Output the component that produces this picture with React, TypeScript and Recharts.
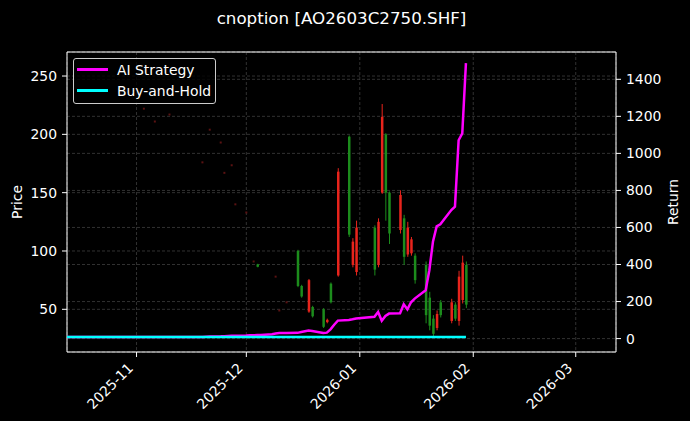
import {
    ComposedChart,
    Bar,
    Line,
    Scatter,
    XAxis,
    YAxis,
    CartesianGrid,
    Legend,
    ReferenceArea
} from "recharts";

// ==============================
// DATA
// ==============================
const tradeDates = [
    "2025-10-13", "2025-10-14", "2025-10-15", "2025-10-16", "2025-10-17",
    "2025-10-20", "2025-10-21", "2025-10-22", "2025-10-23", "2025-10-24",
    "2025-10-27", "2025-10-28", "2025-10-29", "2025-10-30", "2025-10-31",
    "2025-11-03", "2025-11-04", "2025-11-05", "2025-11-06", "2025-11-07",
    "2025-11-10", "2025-11-11", "2025-11-12", "2025-11-13", "2025-11-14",
    "2025-11-17", "2025-11-18", "2025-11-19", "2025-11-20", "2025-11-21",
    "2025-11-24", "2025-11-25", "2025-11-26", "2025-11-27", "2025-11-28",
    "2025-12-01", "2025-12-02", "2025-12-03", "2025-12-04", "2025-12-05",
    "2025-12-08", "2025-12-09", "2025-12-10", "2025-12-11", "2025-12-12",
    "2025-12-15", "2025-12-16", "2025-12-17", "2025-12-18", "2025-12-19",
    "2025-12-22", "2025-12-23", "2025-12-24", "2025-12-25", "2025-12-26",
    "2025-12-29", "2025-12-30", "2025-12-31",
    "2026-01-05", "2026-01-06", "2026-01-07", "2026-01-08", "2026-01-09",
    "2026-01-12", "2026-01-13", "2026-01-14", "2026-01-15", "2026-01-16",
    "2026-01-19", "2026-01-20", "2026-01-21", "2026-01-22", "2026-01-23",
    "2026-01-26", "2026-01-27", "2026-01-28", "2026-01-29", "2026-01-30"
];

const aiReturn = [
    8, 8, 8, 8, 8,
    8, 8, 8, 8, 8,
    8, 8, 8, 8, 8,
    8, 8, 8, 8, 8,
    8, 8, 8, 8, 8,
    8, 8, 9, 10, 11,
    12, 13, 14, 15, 16,
    17, 18, 18, 19, 20,
    24, 28, 30, 30, 30,
    31, 36, 40, 43, 41,
    30, 32, 50, 75, 97,
    101, 104, 108,
    118, 144, 96, 122, 135,
    137, 185, 158, 196, 216,
    261, 369, 525, 606, 617,
    694, 712, 1071, 1108, 1487
];

const bhReturn = [
    8, 8, 8, 8, 8, 8, 8, 8, 8, 8, 8, 8, 8, 8, 8,
    8, 8, 8, 8, 8, 8, 8, 8, 8, 8, 8, 8, 8, 8, 8,
    8, 8, 8, 8, 8, 8, 8, 8, 8, 8, 8, 8, 8, 8, 8,
    8, 8, 8, 8, 8, 8, 8, 8, 8, 8, 8, 8, 8,
    8, 8, 8, 8, 8, 8, 8, 8, 8, 8,
    8, 8, 8, 8, 8, 8, 8, 8, 8, 8
];

const candleDates = [
    "2025-12-04", "2025-12-15", "2025-12-16", "2025-12-18", "2025-12-19",
    "2025-12-22", "2025-12-23", "2025-12-24", "2025-12-26", "2025-12-29",
    "2025-12-30", "2025-12-31", "2026-01-05", "2026-01-06", "2026-01-07",
    "2026-01-08", "2026-01-09", "2026-01-12", "2026-01-13", "2026-01-14",
    "2026-01-15", "2026-01-16", "2026-01-19", "2026-01-20", "2026-01-21",
    "2026-01-22", "2026-01-23", "2026-01-26", "2026-01-27", "2026-01-28",
    "2026-01-29", "2026-01-30"
];
const candleOpen = [
    88.5, 100, 70, 48, 52, 50, 39, 72, 79, 198,
    88, 82, 120, 88, 150, 200, 150, 118, 128, 97,
    98, 96, 88, 60, 42, 34, 56, 40, 54, 40,
    58, 88
];
const candleHigh = [
    89, 101, 71, 76, 53, 51, 42, 73, 171, 199,
    111, 126, 122, 128, 226, 201, 151, 152, 131, 125,
    112, 98, 91, 65, 45, 49, 58, 59, 56, 83,
    96, 91
];
const candleLow = [
    86, 69, 60, 47, 43, 34, 38, 55, 78, 112,
    86, 79, 79, 86, 149, 126, 106, 115, 88, 95,
    96, 72, 38, 32, 27, 32, 43, 38, 40, 36,
    55, 51
];
const candleClose = [
    86.5, 70, 61, 75, 44, 35, 41, 56, 168, 114,
    108, 120, 84, 125, 215, 150, 115, 148, 95, 120,
    110, 75, 45, 36, 29, 46, 45, 56, 42, 78,
    90, 54
];

// flat days (open = high = low = close)
const dojiDates = [
    "2025-11-03", "2025-11-06", "2025-11-10", "2025-11-19", "2025-11-21",
    "2025-11-24", "2025-11-25", "2025-11-27", "2025-11-28", "2025-12-01",
    "2025-12-03", "2025-12-09", "2025-12-10", "2025-12-12"
];
const dojiPrice = [222, 211, 217, 176, 204, 193, 167, 173.5, 140, 133, 91, 78, 49, 56];

const monthTicks = ["2025-11-01", "2025-12-01", "2026-01-01", "2026-02-01", "2026-03-01"];
const priceTicks = [50, 100, 150, 200, 250];
const returnTicks = [0, 200, 400, 600, 800, 1000, 1200, 1400];

const seriesNames = ["AI Strategy", "Buy-and-Hold"];
const seriesColors = ["#ff00ff", "#00ffff"];

// ==============================
// HELPERS
// ==============================
const DAY = 86400000;
const toDay = (s: string) => {
    const [y, m, d] = s.split("-").map(Number);
    return Date.UTC(y, m - 1, d) / DAY;
};
const fmtMonth = (v: number) => {
    const d = new Date(v * DAY);
    return `${d.getUTCFullYear()}-${String(d.getUTCMonth() + 1).padStart(2, "0")}`;
};

const FONT = "'DejaVu Sans', sans-serif";
const UP = "#e8241c";
const DOWN = "#1c8c1c";
const GRID = "#3d3d3d";

const xDomain = [toDay("2025-10-13"), toDay("2026-03-12")];
const priceDomain = [13.4, 270.6];
const returnDomain = [-72.4, 1547.4];

const rows = tradeDates.map((d, i) => {
    const k = candleDates.indexOf(d);
    return {
        t: toDay(d),
        ai: aiReturn[i],
        bh: bhReturn[i],
        o: k >= 0 ? candleOpen[k] : null,
        h: k >= 0 ? candleHigh[k] : null,
        l: k >= 0 ? candleLow[k] : null,
        c: k >= 0 ? candleClose[k] : null
    };
});

const dojis = dojiDates.map((d, i) => ({ t: toDay(d), p: dojiPrice[i] }));

// ==============================
// SHAPES
// ==============================
const Candle = (props: any) => {
    const { x, y, width, height, payload } = props;
    if (payload.h == null || height == null) return null;
    const { o, h, l, c } = payload;
    const k = height / (h - l);
    const yOf = (v: number) => y + (h - v) * k;
    const cx = x + width / 2;
    const color = c >= o ? UP : DOWN;
    const top = yOf(Math.max(o, c));
    const bot = yOf(Math.min(o, c));
    return (
        <g>
            <line x1={cx} x2={cx} y1={y} y2={y + height} stroke={color} strokeWidth={1} />
            <rect x={x} y={top} width={width} height={Math.max(bot - top, 1)} fill={color} />
        </g>
    );
};

const Doji = (props: any) => {
    const { cx, cy } = props;
    return <rect x={cx - 1} y={cy - 1} width={2} height={2} fill="#5a1212" />;
};

const DateTick = (props: any) => {
    const { x, y, payload } = props;
    const ex = x - 2.5;
    const ey = y + 10;
    return (
        <text
            x={ex}
            y={ey}
            transform={`rotate(-45 ${ex} ${ey})`}
            textAnchor="end"
            fill="#fff"
            fontSize={13.9}
            fontFamily={FONT}
        >
            {fmtMonth(payload.value)}
        </text>
    );
};

const axisTitle = (text: string, dx: number) => (props: any) => {
    const vb = props.viewBox;
    const cx = vb.x + dx;
    const cy = vb.y + vb.height / 2;
    return (
        <text
            x={cx}
            y={cy}
            transform={`rotate(-90 ${cx} ${cy})`}
            textAnchor="middle"
            dominantBaseline="central"
            fill="#fff"
            fontSize={13.9}
            fontFamily={FONT}
        >
            {text}
        </text>
    );
};

const LegendBox = () => (
    <div
        style={{
            width: 143,
            height: 46,
            boxSizing: "border-box",
            border: "1px solid #cccccc",
            borderRadius: 3,
            background: "rgba(0,0,0,0.8)",
            paddingLeft: 3,
            fontFamily: FONT,
            fontSize: 13.9,
            color: "#fff"
        }}
    >
        {seriesNames.map((n, i) => (
            <div key={n} style={{ height: 21, display: "flex", alignItems: "center" }}>
                <div style={{ width: 31, height: 2.5, background: seriesColors[i], marginRight: 9 }} />
                <span>{n}</span>
            </div>
        ))}
    </div>
);

const tickStyle = { fill: "#fff", fontSize: 13.9, fontFamily: FONT };

export default function App() {
    return (
        <div
            style={{
                position: "absolute",
                left: 0,
                top: 0,
                width: 690,
                height: 421,
                background: "#000",
                fontFamily: FONT
            }}
        >
            {/* TITLE */}
            <div
                style={{
                    position: "absolute",
                    left: 0,
                    top: 10,
                    width: 683,
                    textAlign: "center",
                    color: "#fff",
                    fontSize: 16.7,
                    lineHeight: 1
                }}
            >
                cnoption [AO2603C2750.SHF]
            </div>

            <ComposedChart
                width={690}
                height={421}
                data={rows}
                margin={{ top: 52, right: 0, bottom: 0, left: 0 }}
            >
                <CartesianGrid
                    yAxisId="left"
                    stroke={GRID}
                    strokeDasharray="3 2"
                    strokeWidth={0.8}
                />
                <CartesianGrid
                    yAxisId="right"
                    vertical={false}
                    stroke={GRID}
                    strokeDasharray="3 2"
                    strokeWidth={0.8}
                />

                <XAxis
                    dataKey="t"
                    type="number"
                    domain={xDomain}
                    allowDataOverflow
                    ticks={monthTicks.map(toDay)}
                    tick={<DateTick />}
                    tickLine={{ stroke: "#fff" }}
                    tickSize={5}
                    tickMargin={2}
                    axisLine={false}
                    height={69}
                    interval={0}
                />
                <YAxis
                    yAxisId="left"
                    type="number"
                    domain={priceDomain}
                    allowDataOverflow
                    ticks={priceTicks}
                    tick={tickStyle}
                    tickLine={{ stroke: "#fff" }}
                    tickSize={5}
                    tickMargin={5}
                    axisLine={false}
                    width={67}
                    interval={0}
                    label={{ content: axisTitle("Price", 17) }}
                />
                <YAxis
                    yAxisId="right"
                    orientation="right"
                    type="number"
                    domain={returnDomain}
                    allowDataOverflow
                    ticks={returnTicks}
                    tick={tickStyle}
                    tickLine={{ stroke: "#fff" }}
                    tickSize={5}
                    tickMargin={5}
                    axisLine={false}
                    width={74}
                    interval={0}
                    label={{ content: axisTitle("Return", 56.5) }}
                />

                <Bar
                    yAxisId="left"
                    dataKey={(r: any) => (r.h == null ? null : [r.l, r.h])}
                    barSize={2.5}
                    shape={<Candle />}
                    isAnimationActive={false}
                />
                <Scatter
                    yAxisId="left"
                    data={dojis}
                    dataKey="p"
                    shape={<Doji />}
                    isAnimationActive={false}
                />

                <Line
                    yAxisId="right"
                    type="linear"
                    dataKey="ai"
                    stroke={seriesColors[0]}
                    strokeWidth={2.5}
                    dot={false}
                    isAnimationActive={false}
                />
                <Line
                    yAxisId="right"
                    type="linear"
                    dataKey="bh"
                    stroke={seriesColors[1]}
                    strokeWidth={2.5}
                    dot={false}
                    isAnimationActive={false}
                />

                {/* AXES FRAME */}
                <ReferenceArea
                    yAxisId="left"
                    x1={xDomain[0]}
                    x2={xDomain[1]}
                    y1={priceDomain[0]}
                    y2={priceDomain[1]}
                    fill="none"
                    stroke="#fff"
                    strokeWidth={1}
                />

                <Legend
                    layout="vertical"
                    align="center"
                    verticalAlign="middle"
                    wrapperStyle={{ left: 73, top: 58, width: 143, height: 46 }}
                    content={<LegendBox />}
                />
            </ComposedChart>
        </div>
    );
}
